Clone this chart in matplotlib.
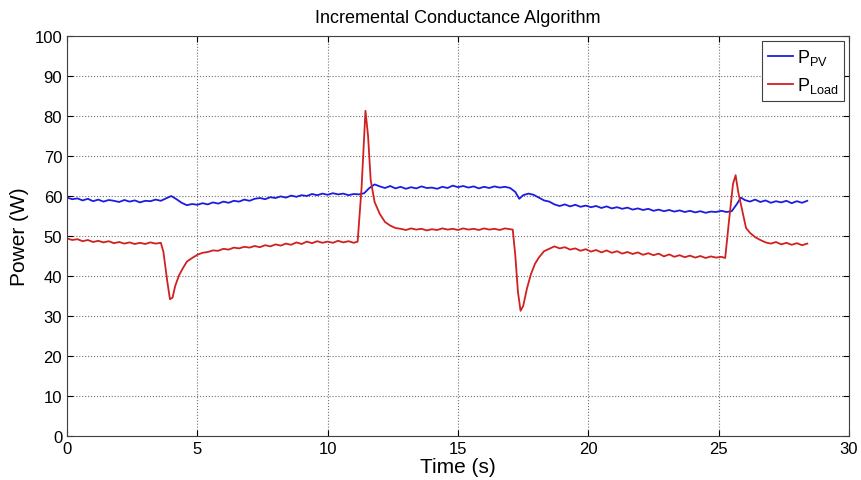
import matplotlib
matplotlib.use('Agg')
import matplotlib.pyplot as plt

plt.rcParams['font.family'] = ['Liberation Sans', 'DejaVu Sans']
plt.rcParams['mathtext.default'] = 'regular'

# P_PV trace (time s, power W)
t_pv = [0.0, 0.2, 0.4, 0.6, 0.8, 1.0, 1.2, 1.4, 1.6, 1.8, 2.0, 2.2, 2.4, 2.6, 2.8,
        3.0, 3.2, 3.4, 3.6, 3.8, 4.0, 4.2, 4.4, 4.6, 4.8, 5.0, 5.2, 5.4, 5.6, 5.8,
        6.0, 6.2, 6.4, 6.6, 6.8, 7.0, 7.2, 7.4, 7.6, 7.8, 8.0, 8.2, 8.4, 8.6, 8.8,
        9.0, 9.2, 9.4, 9.6, 9.8, 10.0, 10.2, 10.4, 10.6, 10.8, 11.0, 11.2, 11.4,
        11.6, 11.8, 12.0, 12.2, 12.4, 12.6, 12.8, 13.0, 13.2, 13.4, 13.6, 13.8,
        14.0, 14.2, 14.4, 14.6, 14.8, 15.0, 15.2, 15.4, 15.6, 15.8, 16.0, 16.2,
        16.4, 16.6, 16.8, 17.0, 17.2, 17.35, 17.5, 17.7, 17.9, 18.1, 18.3, 18.5,
        18.7, 18.9, 19.1, 19.3, 19.5, 19.7, 19.9, 20.1, 20.3, 20.5, 20.7, 20.9,
        21.1, 21.3, 21.5, 21.7, 21.9, 22.1, 22.3, 22.5, 22.7, 22.9, 23.1, 23.3,
        23.5, 23.7, 23.9, 24.1, 24.3, 24.5, 24.7, 24.9, 25.1, 25.3, 25.5, 25.7,
        25.85, 26.0, 26.2, 26.4, 26.6, 26.8, 27.0, 27.2, 27.4, 27.6, 27.8, 28.0,
        28.2, 28.4]
p_pv = [59.6, 59.2, 59.4, 58.9, 59.3, 58.7, 59.1, 58.6, 59.0, 58.8, 58.5, 59.0, 58.6, 58.9, 58.4,
        58.8, 58.7, 59.1, 58.8, 59.4, 60.0, 59.2, 58.3, 57.7, 58.0, 57.8, 58.2, 57.9, 58.4, 58.1,
        58.6, 58.3, 58.8, 58.6, 59.1, 58.8, 59.3, 59.5, 59.2, 59.7, 59.5, 59.9, 59.6, 60.1, 59.8,
        60.2, 60.0, 60.5, 60.2, 60.6, 60.3, 60.7, 60.4, 60.6, 60.2, 60.5, 60.4, 60.7,
        62.0, 62.9, 62.4, 62.0, 62.5, 61.9, 62.3, 61.8, 62.2, 61.9, 62.4, 62.0,
        62.1, 61.8, 62.3, 62.0, 62.6, 62.2, 62.5, 62.1, 62.4, 61.9, 62.3, 62.0,
        62.4, 62.1, 62.3, 62.0, 61.0, 59.3, 60.2, 60.6, 60.3, 59.6, 58.9, 58.6,
        57.9, 57.5, 57.9, 57.4, 57.8, 57.3, 57.6, 57.2, 57.5, 57.0, 57.4, 56.9,
        57.2, 56.8, 57.1, 56.6, 56.9, 56.5, 56.8, 56.3, 56.6, 56.2, 56.5, 56.1,
        56.4, 56.0, 56.3, 55.9, 56.2, 55.8, 56.1, 56.0, 56.3, 56.0, 56.2, 58.0,
        59.6, 59.0, 58.6, 59.1, 58.5, 58.9, 58.3, 58.7, 58.4, 58.8, 58.2, 58.7,
        58.3, 58.8]

# P_Load trace (time s, power W)
t_load = [0.0, 0.2, 0.4, 0.6, 0.8, 1.0, 1.2, 1.4, 1.6, 1.8, 2.0, 2.2, 2.4, 2.6, 2.8,
          3.0, 3.2, 3.4, 3.6, 3.7, 3.85, 3.95, 4.05, 4.15, 4.3, 4.45, 4.6, 4.8, 5.0,
          5.2, 5.4, 5.6, 5.8, 6.0, 6.2, 6.4, 6.6, 6.8, 7.0, 7.2, 7.4, 7.6, 7.8, 8.0,
          8.2, 8.4, 8.6, 8.8, 9.0, 9.2, 9.4, 9.6, 9.8, 10.0, 10.2, 10.4, 10.6, 10.8,
          11.0, 11.15, 11.3, 11.45, 11.55, 11.65, 11.8, 12.0, 12.2, 12.4, 12.6, 12.8,
          13.0, 13.2, 13.4, 13.6, 13.8, 14.0, 14.2, 14.4, 14.6, 14.8, 15.0, 15.2,
          15.4, 15.6, 15.8, 16.0, 16.2, 16.4, 16.6, 16.8, 17.0, 17.1, 17.2, 17.3,
          17.4, 17.5, 17.65, 17.8, 17.95, 18.1, 18.3, 18.5, 18.7, 18.9, 19.1, 19.3,
          19.5, 19.7, 19.9, 20.1, 20.3, 20.5, 20.7, 20.9, 21.1, 21.3, 21.5, 21.7,
          21.9, 22.1, 22.3, 22.5, 22.7, 22.9, 23.1, 23.3, 23.5, 23.7, 23.9, 24.1,
          24.3, 24.5, 24.7, 24.9, 25.1, 25.25, 25.4, 25.55, 25.65, 25.75, 25.9,
          26.05, 26.2, 26.4, 26.6, 26.8, 27.0, 27.2, 27.4, 27.6, 27.8, 28.0, 28.2,
          28.4]
p_load = [49.4, 49.0, 49.2, 48.7, 49.0, 48.5, 48.8, 48.4, 48.7, 48.2, 48.5, 48.1, 48.4, 48.0, 48.3,
          48.0, 48.4, 48.1, 48.3, 46.0, 38.5, 34.2, 34.6, 37.5, 40.2, 42.0, 43.6, 44.5, 45.3,
          45.8, 46.0, 46.4, 46.3, 46.8, 46.6, 47.1, 46.9, 47.3, 47.1, 47.5, 47.2, 47.7, 47.4, 47.9,
          47.6, 48.1, 47.8, 48.4, 48.0, 48.6, 48.2, 48.7, 48.3, 48.6, 48.3, 48.8, 48.4, 48.7,
          48.3, 48.6, 62.0, 81.3, 75.0, 64.0, 58.5, 55.5, 53.5, 52.6, 52.0, 51.8,
          51.5, 51.9, 51.6, 51.8, 51.4, 51.7, 51.5, 51.9, 51.6, 51.8, 51.5, 51.9,
          51.6, 51.8, 51.5, 51.9, 51.6, 51.8, 51.5, 51.9, 51.7, 51.6, 45.0, 36.0,
          31.3, 32.5, 37.0, 40.5, 43.0, 44.6, 46.2, 46.8, 47.4, 46.9, 47.2, 46.6,
          46.9, 46.3, 46.7, 46.1, 46.5, 45.9, 46.4, 45.8, 46.2, 45.6, 46.0, 45.5,
          45.9, 45.3, 45.7, 45.2, 45.6, 44.9, 45.4, 44.8, 45.2, 44.7, 45.1, 44.6,
          45.0, 44.5, 44.9, 44.6, 44.8, 44.5, 54.0, 63.0, 65.2, 61.0, 56.5,
          52.0, 50.8, 49.7, 49.0, 48.4, 48.1, 48.5, 47.9, 48.3, 47.8, 48.2, 47.7,
          48.1]

x_ticks = [0, 5, 10, 15, 20, 25, 30]
y_ticks = [0, 10, 20, 30, 40, 50, 60, 70, 80, 90, 100]

fig = plt.figure(figsize=(8.62, 4.81), dpi=100)
ax = fig.add_axes([67 / 862, 44 / 481, 782 / 862, 400 / 481])

ax.plot(t_pv, p_pv, color='#1c1ce0', linewidth=1.3, label='P$_{PV}$')
ax.plot(t_load, p_load, color='#d02020', linewidth=1.3, label='P$_{Load}$')

ax.set_xlim(0, 30)
ax.set_ylim(0, 100)
ax.set_xticks(x_ticks)
ax.set_yticks(y_ticks)
ax.tick_params(direction='in', labelsize=12, length=4, top=True, right=True)
ax.grid(True, linestyle=':', color='#707070', linewidth=0.8)
for spine in ax.spines.values():
    spine.set_color('#404040')
    spine.set_linewidth(0.8)

ax.set_title('Incremental Conductance Algorithm', fontsize=13, pad=10)
ax.set_xlabel('Time (s)', fontsize=15, labelpad=1)
ax.set_ylabel('Power (W)', fontsize=15, labelpad=4)

leg = ax.legend(loc='upper right', fontsize=13, fancybox=False, framealpha=1,
                edgecolor='#404040', borderpad=0.35, handlelength=1.4,
                handletextpad=0.2, labelspacing=0.45, borderaxespad=0.25)
leg.get_frame().set_linewidth(0.8)

fig.savefig('out.png', dpi=100, facecolor='white')
plt.close(fig)
